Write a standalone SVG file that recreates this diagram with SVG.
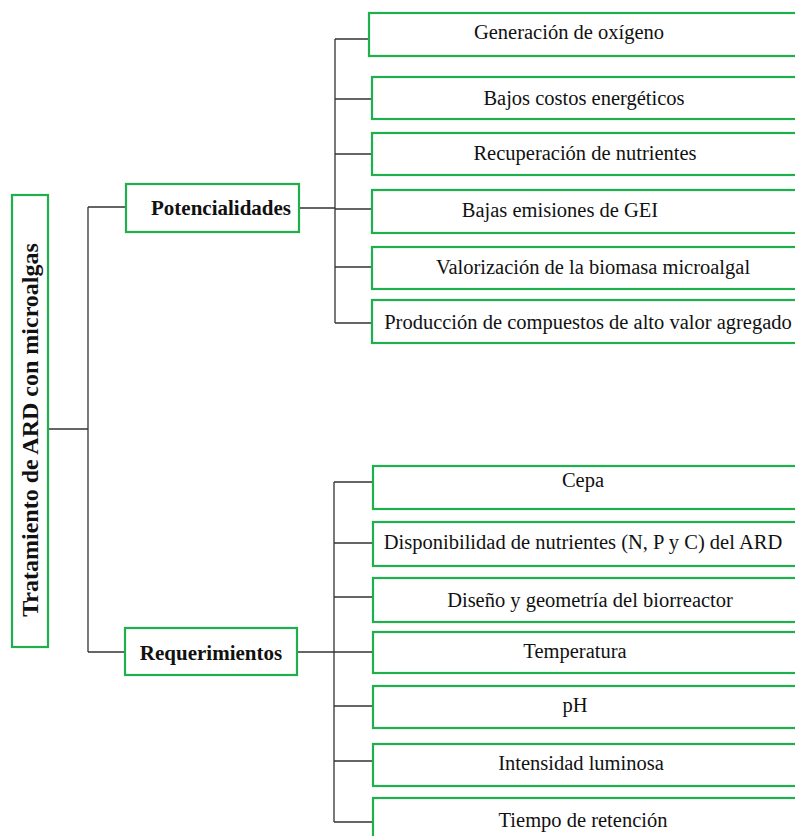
<svg xmlns="http://www.w3.org/2000/svg" width="795" height="836" viewBox="0 0 795 836">
<style>
.box{fill:#fff;stroke:#1fb04e;stroke-width:2.2}
.t{font-family:"Liberation Serif","Times New Roman",serif;font-size:20.5px;fill:#111;text-anchor:middle}
.b{font-weight:bold;font-size:21px}
.c{fill:none;stroke:#333;stroke-width:1.3}
</style>
<rect width="795" height="836" fill="#fff"/>
<g id="connectors">
<path class="c" d="M49 429H88M88 207V652M88 207H126M88 652H125"/>
<path class="c" d="M299 208H335M335 39V323M335 39H369M335 99H372M335 154H372M335 209H372M335 267H372M335 323H372"/>
<path class="c" d="M297 652H334M334 482V822M334 482H373M334 543H373M334 597H373M334 652H373M334 706H373M334 761H373M334 822H373"/>
</g>
<g id="root">
<rect class="box" x="12" y="195" width="36" height="452"/>
<text class="t b" transform="translate(38 430) rotate(-90)" style="font-size:24px">Tratamiento de ARD con microalgas</text>
</g>
<g id="potencialidades">
<rect class="box" x="126" y="184" width="173" height="48"/>
<text class="t b" x="221" y="215">Potencialidades</text>
</g>
<g id="requerimientos">
<rect class="box" x="125" y="628" width="172" height="47"/>
<text class="t b" x="211" y="660">Requerimientos</text>
</g>
<g id="p1"><rect class="box" x="369" y="13" width="440" height="43"/><text class="t" x="569" y="39">Generación de oxígeno</text></g>
<g id="p2"><rect class="box" x="372" y="77" width="440" height="42"/><text class="t" x="584" y="105">Bajos costos energéticos</text></g>
<g id="p3"><rect class="box" x="372" y="133" width="440" height="42"/><text class="t" x="585" y="160">Recuperación de nutrientes</text></g>
<g id="p4"><rect class="box" x="372" y="190" width="440" height="43"/><text class="t" x="560" y="217">Bajas emisiones de GEI</text></g>
<g id="p5"><rect class="box" x="372" y="247" width="440" height="42"/><text class="t" x="593" y="274">Valorización de la biomasa microalgal</text></g>
<g id="p6"><rect class="box" x="372" y="300" width="440" height="43"/><text class="t" x="588" y="329">Producción de compuestos de alto valor agregado</text></g>
<g id="r1"><rect class="box" x="373" y="466" width="440" height="43"/><text class="t" x="583" y="487">Cepa</text></g>
<g id="r2"><rect class="box" x="373" y="522" width="440" height="44"/><text class="t" x="583" y="549">Disponibilidad de nutrientes (N, P y C) del ARD</text></g>
<g id="r3"><rect class="box" x="373" y="578" width="440" height="44"/><text class="t" x="590" y="607">Diseño y geometría del biorreactor</text></g>
<g id="r4"><rect class="box" x="373" y="632" width="440" height="41"/><text class="t" x="575" y="658">Temperatura</text></g>
<g id="r5"><rect class="box" x="373" y="686" width="440" height="42"/><text class="t" x="575" y="712">pH</text></g>
<g id="r6"><rect class="box" x="373" y="744" width="440" height="42"/><text class="t" x="581" y="770">Intensidad luminosa</text></g>
<g id="r7"><rect class="box" x="373" y="798" width="440" height="44"/><text class="t" x="583" y="827">Tiempo de retención</text></g>
</svg>
